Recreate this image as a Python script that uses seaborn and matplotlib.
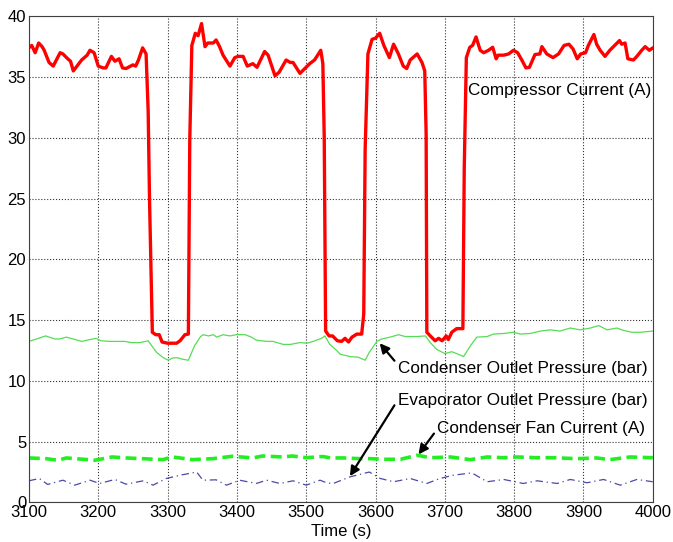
import numpy as np
import pandas as pd
import seaborn as sns
import matplotlib.pyplot as plt

# Compressor current (A)
comp_t = [3100, 3104, 3109, 3114, 3119, 3122, 3129, 3135, 3145, 3149, 3156, 3160, 3164, 3176, 3184, 3188,
          3194, 3200, 3207, 3211, 3219, 3224, 3230, 3235, 3240, 3250, 3254, 3258, 3264, 3269, 3272, 3274,
          3278, 3283, 3288, 3292, 3300, 3313, 3318, 3325, 3330, 3332, 3335, 3340, 3344, 3349, 3354, 3358,
          3366, 3370, 3375, 3380, 3390, 3397, 3402, 3409, 3415, 3423, 3429, 3440, 3445, 3455, 3461, 3471,
          3477, 3481, 3491, 3505, 3512, 3521, 3524, 3526, 3528, 3533, 3538, 3545, 3551, 3556, 3561, 3566,
          3573, 3580, 3583, 3585, 3589, 3595, 3600, 3606, 3612, 3620, 3626, 3633, 3640, 3645, 3650, 3660,
          3667, 3671, 3673, 3674, 3679, 3686, 3691, 3696, 3702, 3705, 3710, 3717, 3726, 3728, 3731, 3736,
          3740, 3745, 3751, 3756, 3763, 3769, 3774, 3777, 3785, 3792, 3799, 3805, 3811, 3817, 3822, 3830,
          3837, 3840, 3847, 3856, 3864, 3872, 3879, 3885, 3891, 3896, 3903, 3907, 3915, 3919, 3924, 3931,
          3938, 3945, 3952, 3955, 3960, 3964, 3972, 3977, 3984, 3989, 3995, 4000]
comp_v = [37.4, 37.6, 37.0, 37.8, 37.5, 37.2, 36.2, 35.9, 37.0, 36.9, 36.5, 36.3, 35.5, 36.4, 36.8, 37.2,
          37.0, 35.9, 35.75, 35.75, 36.7, 36.3, 36.5, 35.75, 35.7, 36.0, 35.9, 36.4, 37.4, 36.9, 32.2, 24.8,
          14.0, 13.8, 13.8, 13.2, 13.1, 13.1, 13.3, 13.8, 13.85, 29.8, 37.6, 38.6, 38.4, 39.4, 37.5, 37.8,
          37.8, 38.05, 37.5, 36.8, 35.9, 36.6, 36.7, 36.7, 35.9, 36.1, 35.8, 37.1, 36.8, 35.1, 35.4, 36.4,
          36.2, 36.2, 35.3, 36.1, 36.4, 37.2, 36.1, 30.0, 14.1, 13.7, 13.7, 13.3, 13.25, 13.5, 13.2, 13.6,
          13.85, 13.85, 15.5, 29.0, 36.9, 38.1, 38.2, 38.6, 37.6, 36.6, 37.7, 36.9, 35.9, 35.7, 36.4, 36.9,
          36.2, 35.5, 30.3, 14.0, 13.7, 13.3, 13.5, 13.3, 13.7, 13.4, 14.0, 14.3, 14.3, 27.6, 36.6, 37.45,
          37.6, 38.3, 37.2, 37.0, 37.2, 37.45, 36.5, 36.8, 36.8, 36.9, 37.2, 37.0, 36.4, 35.75, 35.8, 36.85,
          36.9, 37.5, 36.9, 36.6, 36.9, 37.6, 37.7, 37.3, 36.5, 36.9, 37.0, 37.6, 38.5, 37.7, 37.2, 36.7,
          37.2, 37.6, 38.0, 37.7, 37.8, 36.5, 36.4, 36.7, 37.2, 37.5, 37.2, 37.4]

# Condenser outlet pressure (bar)
cond_t = [3100, 3111, 3124, 3137, 3144, 3154, 3164, 3176, 3188, 3197, 3204, 3217, 3238, 3248, 3260, 3272,
          3277, 3284, 3294, 3301, 3308, 3315, 3320, 3330, 3339, 3347, 3351, 3359, 3366, 3371, 3380, 3390,
          3399, 3412, 3421, 3428, 3443, 3452, 3467, 3477, 3491, 3501, 3510, 3522, 3527, 3534, 3544, 3549,
          3563, 3575, 3585, 3591, 3602, 3609, 3621, 3633, 3643, 3660, 3672, 3679, 3688, 3700, 3710, 3717,
          3727, 3737, 3746, 3761, 3770, 3785, 3799, 3809, 3823, 3838, 3852, 3866, 3881, 3895, 3910, 3922,
          3934, 3948, 3958, 3970, 3982, 4000]
cond_v = [13.25, 13.45, 13.7, 13.45, 13.45, 13.6, 13.45, 13.25, 13.4, 13.5, 13.3, 13.25, 13.25, 13.15, 13.15, 13.3,
          12.9, 12.35, 11.9, 11.7, 11.9, 11.9, 11.8, 11.7, 12.9, 13.6, 13.8, 13.7, 13.8, 13.6, 13.8, 13.7,
          13.8, 13.8, 13.6, 13.35, 13.25, 13.25, 13.0, 13.0, 13.15, 13.1, 13.25, 13.5, 13.7, 13.0, 12.5, 12.2,
          12.0, 11.95, 11.7, 12.35, 13.25, 13.45, 13.6, 13.8, 13.65, 13.65, 13.7, 13.15, 12.6, 12.25, 12.4, 12.25,
          12.0, 12.9, 13.6, 13.65, 13.85, 13.9, 14.0, 13.85, 13.9, 14.1, 14.2, 14.1, 14.35, 14.2, 14.35, 14.55,
          14.2, 14.35, 14.15, 14.0, 14.0, 14.1]

# Condenser fan current (A)
fan_t = [3100, 3125, 3142, 3154, 3185, 3195, 3220, 3240, 3264, 3293, 3307, 3336, 3365, 3394, 3423, 3437,
         3466, 3480, 3500, 3524, 3535, 3554, 3578, 3593, 3612, 3636, 3660, 3679, 3708, 3737, 3761, 3785,
         3804, 3833, 3857, 3890, 3919, 3938, 3967, 4000]
fan_v = [3.66, 3.6, 3.47, 3.66, 3.52, 3.47, 3.74, 3.66, 3.6, 3.52, 3.74, 3.52, 3.6, 3.8, 3.66, 3.82,
         3.74, 3.82, 3.68, 3.78, 3.66, 3.66, 3.6, 3.6, 3.55, 3.55, 3.88, 3.68, 3.74, 3.52, 3.74, 3.68,
         3.74, 3.68, 3.68, 3.6, 3.66, 3.52, 3.74, 3.68]

# Evaporator outlet pressure (bar)
evap_t = [3100, 3115, 3127, 3149, 3166, 3188, 3202, 3224, 3240, 3265, 3279, 3298, 3318, 3342, 3351, 3370,
          3385, 3404, 3428, 3443, 3462, 3481, 3500, 3520, 3530, 3539, 3563, 3591, 3607, 3626, 3650, 3674,
          3693, 3712, 3739, 3761, 3785, 3813, 3833, 3862, 3881, 3905, 3929, 3953, 3977, 4000]
evap_v = [1.78, 1.97, 1.48, 1.83, 1.42, 1.83, 1.56, 1.89, 1.5, 1.78, 1.42, 1.97, 2.24, 2.5, 1.83, 1.86,
          1.42, 1.83, 1.56, 1.83, 1.56, 1.78, 1.42, 1.83, 1.6, 1.56, 2.1, 2.5, 1.97, 1.7, 1.97, 1.56,
          1.97, 2.24, 2.43, 1.7, 1.89, 1.56, 1.78, 1.56, 1.89, 1.62, 1.89, 1.42, 1.89, 1.7]

sns.set_style("whitegrid", {"grid.linestyle": ":", "grid.color": "0.2", "axes.edgecolor": "0.15",
                            "xtick.direction": "in", "ytick.direction": "in", "text.color": "black",
                            "xtick.color": "black", "ytick.color": "black", "axes.labelcolor": "black"})
plt.rcParams['font.family'] = ['Liberation Sans', 'DejaVu Sans']

fig = plt.figure(figsize=(6.73, 5.42), dpi=100)
ax = fig.add_axes([0.043, 0.073, 0.927, 0.897])

sns.lineplot(x=cond_t, y=cond_v, color="#55dd55", lw=0.9, ax=ax)
sns.lineplot(x=evap_t, y=evap_v, color="#4a4aa8", lw=0.9, ax=ax, linestyle=(0, (6, 3, 1, 3)))
sns.lineplot(x=fan_t, y=fan_v, color="#22ee22", lw=2.6, ax=ax, linestyle=(0, (3, 1.5)))
sns.lineplot(x=comp_t, y=comp_v, color="#ff0000", lw=2.4, ax=ax)

ax.set_xlim(3100, 4000)
ax.set_ylim(0, 40)
ax.set_xticks(range(3100, 4001, 100))
ax.set_yticks(range(0, 41, 5))
ax.tick_params(labelsize=12, length=4, pad=2, labelcolor="black")
ax.grid(True, linestyle=":", color="0.2", lw=0.8)
for s in ax.spines.values():
    s.set_visible(True)
    s.set_color("0.25")
ax.set_xlabel("Time (s)", fontsize=12, labelpad=3, color="black")
ax.set_ylabel("")

ax.text(3733, 33.9, "Compressor Current (A)", fontsize=12.3, va="center", ha="left", color="black")


def arw(ry):
    return dict(arrowstyle="-|>", color="k", lw=1.6, mutation_scale=14,
                shrinkA=0, shrinkB=0, relpos=(0, ry))


ax.annotate("Condenser Outlet Pressure (bar)", xy=(3606, 13.1), xytext=(3632, 11.03), color="black",
            fontsize=12.3, va="center", ha="left", arrowprops=arw(0.75))
ax.annotate("Evaporator Outlet Pressure (bar)", xy=(3563, 2.16), xytext=(3632, 8.42), color="black",
            fontsize=12.3, va="center", ha="left", arrowprops=arw(0.5))
ax.annotate("Condenser Fan Current (A)", xy=(3662, 3.95), xytext=(3689, 6.09), color="black",
            fontsize=12.3, va="center", ha="left", arrowprops=arw(0.45))

fig.savefig("out.png", dpi=100)
